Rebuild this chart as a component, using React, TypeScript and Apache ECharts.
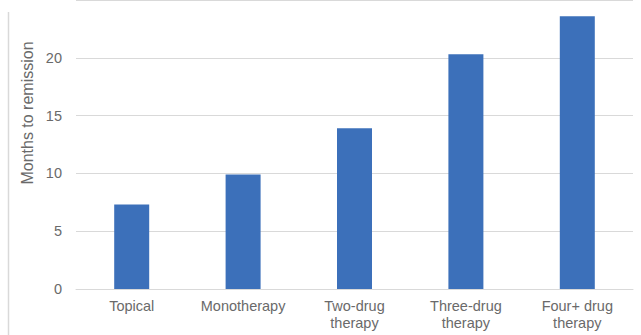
import React, { useEffect, useRef } from "react";
import * as echarts from "echarts";

const categories = ["Topical", "Monotherapy", "Two-drug therapy", "Three-drug therapy", "Four+ drug therapy"];
const monthsToRemission = [7.3, 9.9, 13.9, 20.3, 23.6];
const yAxisTitle = "Months to remission";

const FONT = "'Liberation Sans', Arial, sans-serif";
const TEXT = "#6a6a6a";
const GRID = "#d9d9d9";

export default function App() {
  const ref = useRef<HTMLDivElement>(null);
  useEffect(() => {
    document.body.style.margin = "0";
    const chart = echarts.init(ref.current!, null, { renderer: "svg" });
    chart.setOption({
      animation: false,
      backgroundColor: "#ffffff",
      textStyle: { fontFamily: FONT },
      grid: { left: 76, right: 8, top: -3.5, bottom: 46, containLabel: false },
      xAxis: {
        type: "category",
        data: categories,
        axisLine: { show: true, lineStyle: { color: GRID, width: 1 } },
        axisTick: { show: false },
        axisLabel: {
          interval: 0,
          margin: 8,
          fontSize: 14.5,
          lineHeight: 17,
          color: TEXT,
          fontFamily: FONT,
          formatter: (v: string) => v.replace(" therapy", "\ntherapy"),
        },
      },
      yAxis: {
        type: "value",
        min: 0,
        max: 25,
        interval: 5,
        axisLine: { show: false },
        axisTick: { show: false },
        splitLine: { show: true, lineStyle: { color: GRID, width: 1 } },
        axisLabel: {
          margin: 14,
          fontSize: 14.5,
          color: TEXT,
          fontFamily: FONT,
          formatter: (v: number) => (v >= 25 ? "" : String(v)),
        },
      },
      series: [
        {
          type: "bar",
          data: monthsToRemission,
          barWidth: 35,
          itemStyle: { color: "#3c70ba" },
        },
      ],
      graphic: [
        {
          type: "line",
          shape: { x1: 8.5, y1: 12, x2: 8.5, y2: 335 },
          style: { stroke: GRID, lineWidth: 1.5 },
        },
        {
          type: "text",
          x: 27,
          y: 113,
          rotation: Math.PI / 2,
          style: {
            text: yAxisTitle,
            fontSize: 16,
            fill: TEXT,
            fontFamily: FONT,
            align: "center",
            verticalAlign: "middle",
          },
        },
      ],
    });
    return () => chart.dispose();
  }, []);
  return <div ref={ref} style={{ position: "fixed", left: 0, top: 0, width: 641, height: 335 }} />;
}
